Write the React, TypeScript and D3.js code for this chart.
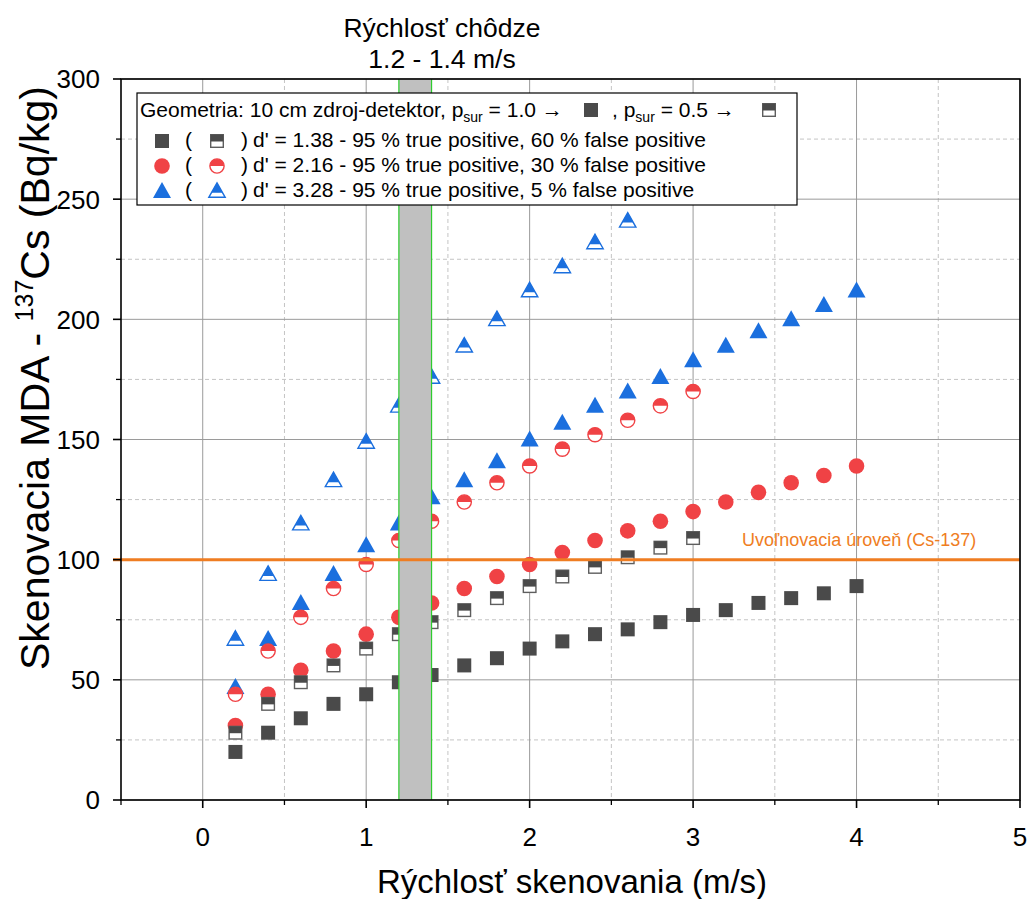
import React, { useEffect } from 'react';
import * as d3 from 'd3';

// ---- data ----
const speedsP10 = [0.2, 0.4, 0.6, 0.8, 1.0, 1.2, 1.4, 1.6, 1.8, 2.0, 2.2, 2.4, 2.6, 2.8, 3.0, 3.2, 3.4, 3.6, 3.8, 4.0];
const speedsP05a = [0.2, 0.4, 0.6, 0.8, 1.0, 1.2, 1.4, 1.6, 1.8, 2.0, 2.2, 2.4, 2.6, 2.8, 3.0];
const speedsP05b = [0.2, 0.4, 0.6, 0.8, 1.0, 1.2, 1.4, 1.6, 1.8, 2.0, 2.2, 2.4, 2.6];

const squareFull = [20, 28, 34, 40, 44, 49, 52, 56, 59, 63, 66, 69, 71, 74, 77, 79, 82, 84, 86, 89];
const squareHalf = [28, 40, 49, 56, 63, 69, 74, 79, 84, 89, 93, 97, 101, 105, 109];
const circleFull = [31, 44, 54, 62, 69, 76, 82, 88, 93, 98, 103, 108, 112, 116, 120, 124, 128, 132, 135, 139];
const circleHalf = [44, 62, 76, 88, 98, 108, 116, 124, 132, 139, 146, 152, 158, 164, 170];
const triFull = [47, 67, 82, 94, 106, 115, 126, 133, 141, 150, 157, 164, 170, 176, 183, 189, 195, 200, 206, 212];
const triHalf = [67, 94, 115, 133, 149, 164, 176, 189, 200, 212, 222, 232, 241];

const xTicks = [0, 1, 2, 3, 4, 5];
const xMinorTicks = [-0.5, 0.5, 1.5, 2.5, 3.5, 4.5];
const yTicks = [0, 50, 100, 150, 200, 250, 300];
const yMinorTicks = [25, 75, 125, 175, 225, 275];
const walkBand = [1.2, 1.4];
const releaseLevel = 100;

const legendRows = [
  { shape: 'square', text: "d' = 1.38 - 95 % true positive, 60 % false positive" },
  { shape: 'circle', text: "d' = 2.16 - 95 % true positive, 30 % false positive" },
  { shape: 'triangle', text: "d' = 3.28 - 95 % true positive, 5 % false positive" },
];

const C_SQ = '#4a4a4a';
const C_SQ_STROKE = '#5e5e5e';
const C_RED = '#f04245';
const C_BLUE = '#1b6fde';
const C_ORANGE = '#ef7d22';
const FONT = '"Liberation Sans", Arial, sans-serif';

function Marker({ shape, half, cx, cy }: { shape: string; half: boolean; cx: number; cy: number }) {
  if (shape === 'square') {
    if (!half) return <rect x={cx - 7} y={cy - 7} width={14} height={14} fill={C_SQ} />;
    return (
      <g>
        <rect x={cx - 6.3} y={cy - 6.3} width={12.6} height={12.6} fill="#fff" stroke={C_SQ_STROKE} strokeWidth={1.4} />
        <rect x={cx - 6.3} y={cy - 6.3} width={12.6} height={6.8} fill={C_SQ} />
      </g>
    );
  }
  if (shape === 'circle') {
    const r = 7.8;
    if (!half) return <circle cx={cx} cy={cy} r={r} fill={C_RED} />;
    const r2 = 7.1;
    return (
      <g>
        <circle cx={cx} cy={cy} r={r2} fill="#fff" stroke={C_RED} strokeWidth={1.4} />
        <path d={`M${cx - r2},${cy} A${r2},${r2} 0 0 1 ${cx + r2},${cy} Z`} fill={C_RED} />
      </g>
    );
  }
  // triangle
  const top = cy - 9, bot = cy + 7, hw = 9;
  const tri = `M${cx},${top} L${cx + hw},${bot} L${cx - hw},${bot} Z`;
  if (!half) return <path d={tri} fill={C_BLUE} />;
  const t2 = cy - 8.2, b2 = cy + 6.3, hw2 = 8.2;
  const split = cy + 1.8;
  const frac = (split - t2) / (b2 - t2);
  return (
    <g>
      <path d={`M${cx},${t2} L${cx + hw2},${b2} L${cx - hw2},${b2} Z`} fill="#fff" stroke={C_BLUE} strokeWidth={1.4} strokeLinejoin="miter" />
      <path d={`M${cx},${t2} L${cx + hw2 * frac},${split} L${cx - hw2 * frac},${split} Z`} fill={C_BLUE} />
    </g>
  );
}

export default function App() {
  useEffect(() => {
    document.body.style.margin = '0';
  }, []);

  const W = 1029, H = 899;
  const left = 121, right = 1020, top = 79, bottom = 800;
  const x = d3.scaleLinear().domain([-0.5, 5]).range([left, right]);
  const y = d3.scaleLinear().domain([0, 300]).range([bottom, top]);

  const series = [
    { xs: speedsP10, ys: squareFull, shape: 'square', half: false },
    { xs: speedsP10, ys: circleFull, shape: 'circle', half: false },
    { xs: speedsP10, ys: triFull, shape: 'triangle', half: false },
    { xs: speedsP05a, ys: squareHalf, shape: 'square', half: true },
    { xs: speedsP05a, ys: circleHalf, shape: 'circle', half: true },
    { xs: speedsP05b, ys: triHalf, shape: 'triangle', half: true },
  ];

  return (
    <svg width={W} height={H} style={{ display: 'block', fontFamily: FONT }}>
      <rect x={0} y={0} width={W} height={H} fill="#fff" />
      {/* minor grid */}
      {xMinorTicks.filter((t) => t > -0.5).map((t) => (
        <line key={'xm' + t} x1={x(t)} x2={x(t)} y1={top} y2={bottom} stroke="#c4c4c4" strokeDasharray="4,3" strokeWidth={1} />
      ))}
      {yMinorTicks.map((t) => (
        <line key={'ym' + t} x1={left} x2={right} y1={y(t)} y2={y(t)} stroke="#c4c4c4" strokeDasharray="4,3" strokeWidth={1} />
      ))}
      {/* major grid */}
      {xTicks.map((t) => (
        <line key={'xg' + t} x1={x(t)} x2={x(t)} y1={top} y2={bottom} stroke="#9a9a9a" strokeWidth={1} />
      ))}
      {yTicks.map((t) => (
        <line key={'yg' + t} x1={left} x2={right} y1={y(t)} y2={y(t)} stroke="#9a9a9a" strokeWidth={1} />
      ))}

      {/* markers */}
      {series.map((s, si) => (
        <g key={'s' + si}>
          {s.xs.map((xv, i) => (
            <Marker key={i} shape={s.shape} half={s.half} cx={x(xv)} cy={y(s.ys[i])} />
          ))}
        </g>
      ))}

      {/* walking speed band */}
      <rect x={x(walkBand[0])} y={top} width={x(walkBand[1]) - x(walkBand[0])} height={bottom - top} fill="#c0c0c0" />
      <line x1={x(walkBand[0])} x2={x(walkBand[0])} y1={top} y2={bottom} stroke="#2ecc2e" strokeWidth={1.2} />
      <line x1={x(walkBand[1])} x2={x(walkBand[1])} y1={top} y2={bottom} stroke="#2ecc2e" strokeWidth={1.2} />

      {/* release level line */}
      <line x1={left - 8} x2={right} y1={y(releaseLevel)} y2={y(releaseLevel)} stroke={C_ORANGE} strokeWidth={3} />
      <text x={742} y={y(releaseLevel) - 14} fontSize={18} fill={C_ORANGE}>Uvoľnovacia úroveň (Cs-137)</text>

      {/* frame */}
      <rect x={left} y={top} width={right - left} height={bottom - top} fill="none" stroke="#000" strokeWidth={1.6} />

      {/* y ticks */}
      {yTicks.map((t) => (
        <g key={'yt' + t}>
          <line x1={left - 8} x2={left} y1={y(t)} y2={y(t)} stroke="#000" strokeWidth={1.6} />
          <text x={100} y={y(t)} dy="0.36em" textAnchor="end" fontSize={26}>{t}</text>
        </g>
      ))}
      {yMinorTicks.map((t) => (
        <line key={'ymt' + t} x1={left - 5} x2={left} y1={y(t)} y2={y(t)} stroke="#000" strokeWidth={1.3} />
      ))}
      {/* x ticks */}
      {xTicks.map((t) => (
        <g key={'xt' + t}>
          <line x1={x(t)} x2={x(t)} y1={bottom} y2={bottom + 8} stroke="#000" strokeWidth={1.6} />
          <text x={x(t)} y={bottom + 46} textAnchor="middle" fontSize={26}>{t}</text>
        </g>
      ))}
      {xMinorTicks.map((t) => (
        <line key={'xmt' + t} x1={x(t)} x2={x(t)} y1={bottom} y2={bottom + 5} stroke="#000" strokeWidth={1.3} />
      ))}

      {/* axis titles */}
      <text x={572} y={893} textAnchor="middle" fontSize={33}>Rýchlosť skenovania (m/s)</text>
      <text transform={`translate(49,378) rotate(-90)`} textAnchor="middle" fontSize={41}>
        Skenovacia MDA - <tspan fontSize={25} dy={-16}>137</tspan><tspan dy={16}>Cs (Bq/kg)</tspan>
      </text>

      {/* band title */}
      <text x={442} y={37} textAnchor="middle" fontSize={26.5}>Rýchlosť chôdze</text>
      <text x={442} y={68} textAnchor="middle" fontSize={26.5}>1.2 - 1.4 m/s</text>

      {/* legend */}
      <g fontSize={21}>
        <rect x={137} y={93} width={660} height={112} fill="#fff" stroke="#000" strokeWidth={1.2} />
        <text x={140} y={117}>
          Geometria: 10 cm zdroj-detektor, p<tspan fontSize={14} dy={5}>sur</tspan><tspan dy={-5}> = 1.0 →</tspan>
        </text>
        <Marker shape="square" half={false} cx={591} cy={110} />
        <text x={612} y={117}>
          ,  p<tspan fontSize={14} dy={5}>sur</tspan><tspan dy={-5}> = 0.5 →</tspan>
        </text>
        <Marker shape="square" half={true} cx={769} cy={110} />
        {legendRows.map((r, i) => {
          const cy = 141 + i * 25;
          return (
            <g key={'lg' + i}>
              <Marker shape={r.shape} half={false} cx={162} cy={cy} />
              <text x={185} y={cy + 6}>(</text>
              <Marker shape={r.shape} half={true} cx={217} cy={cy} />
              <text x={241} y={cy + 6}>)</text>
              <text x={253} y={cy + 6}>{r.text}</text>
            </g>
          );
        })}
      </g>
    </svg>
  );
}
